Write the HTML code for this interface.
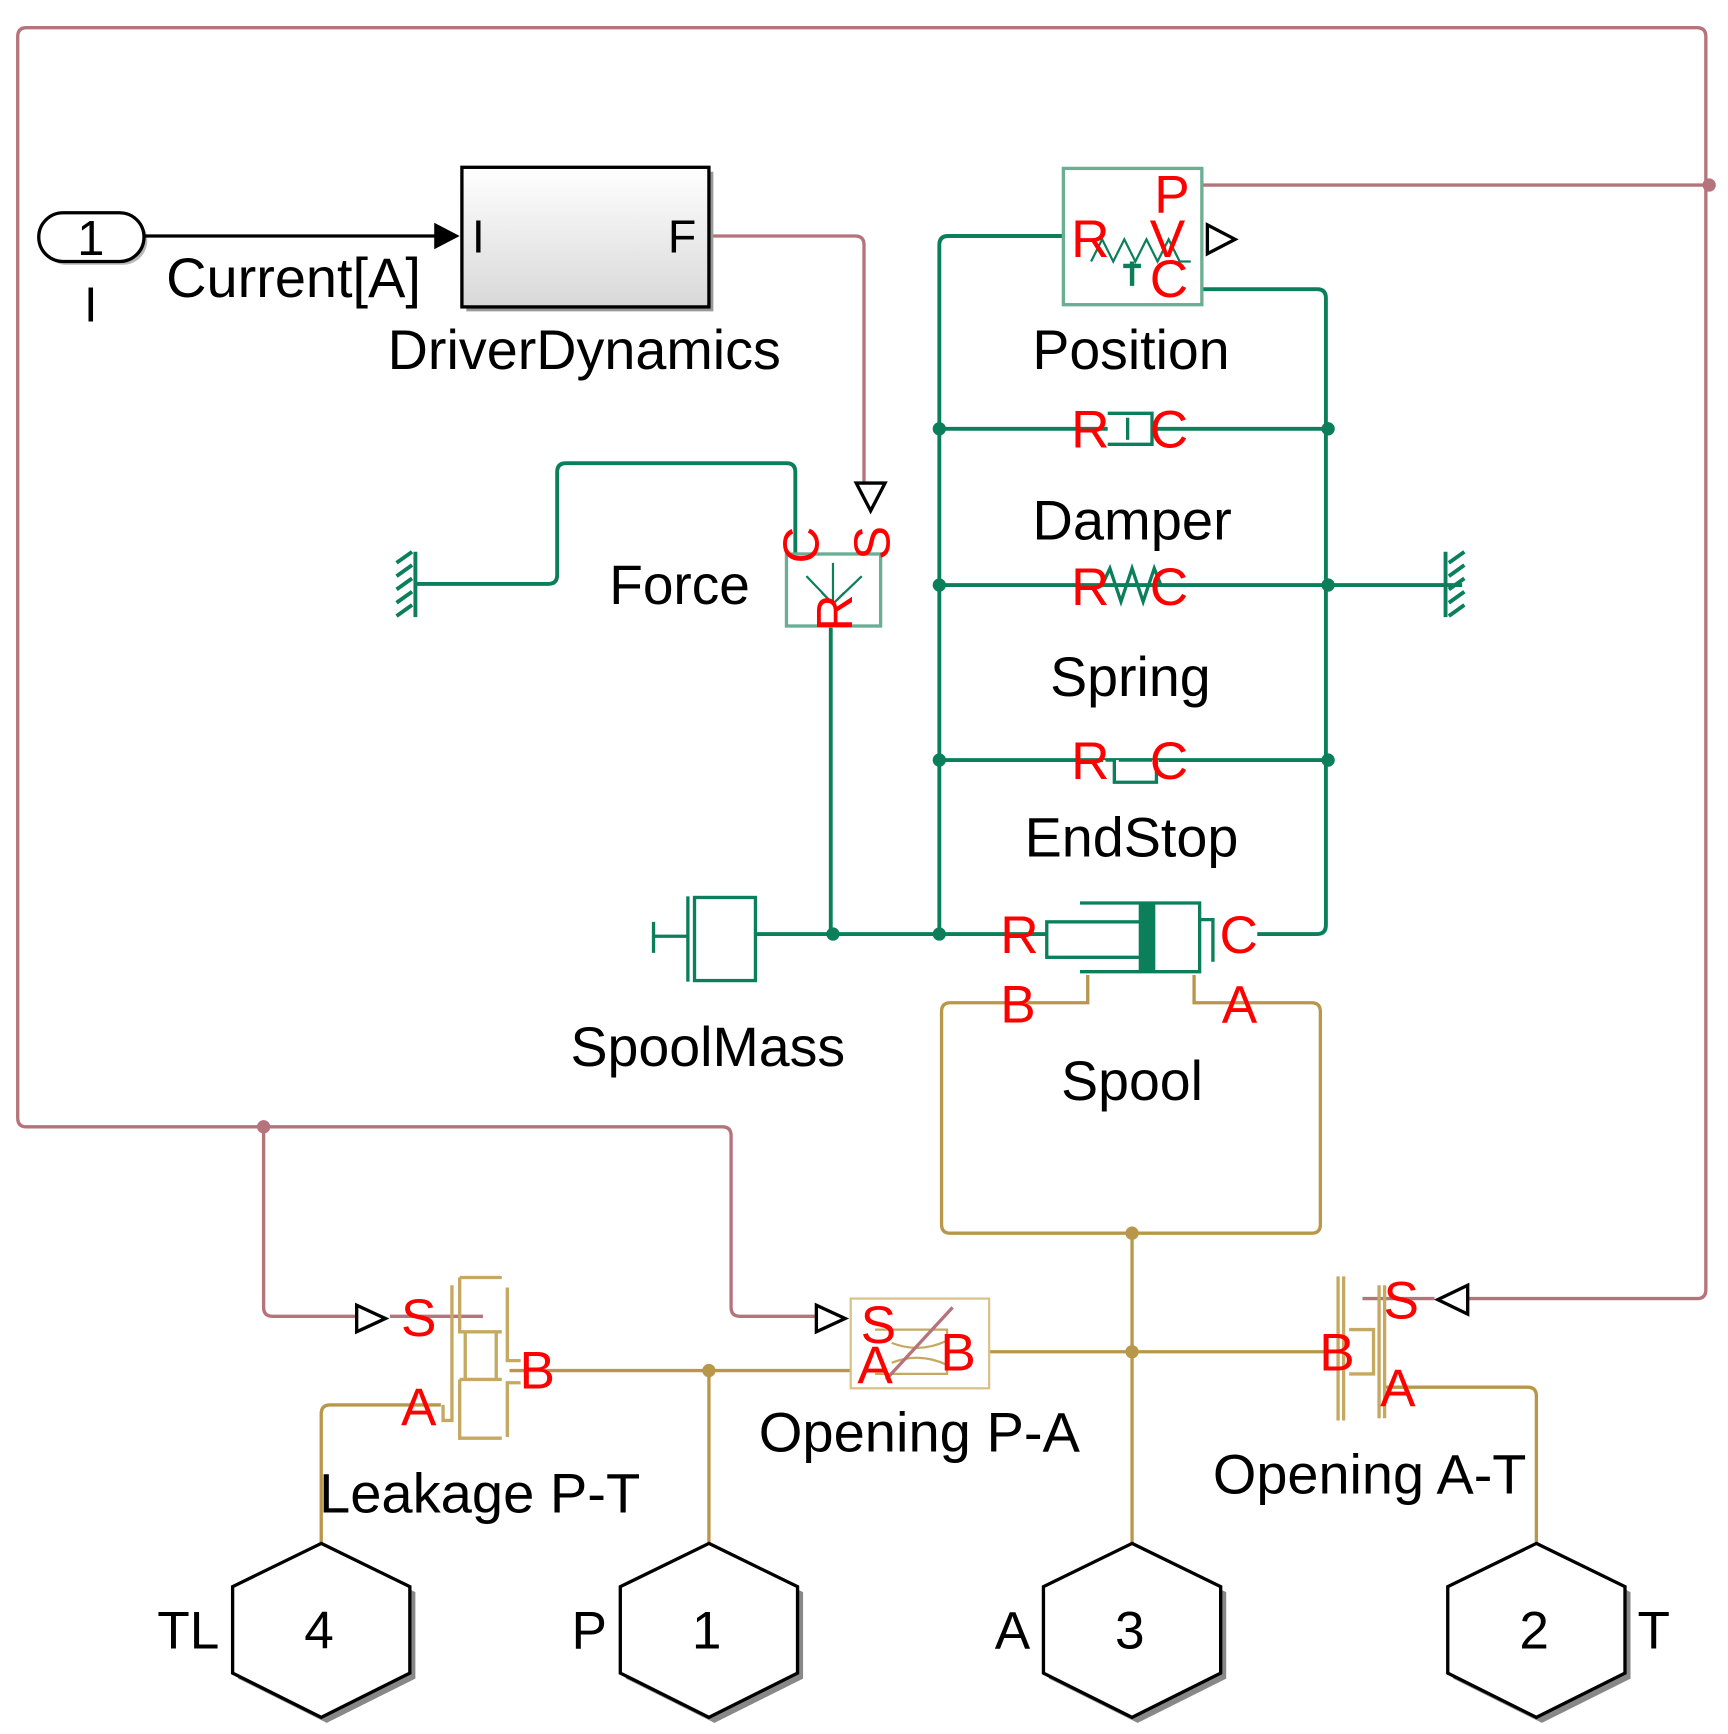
<!DOCTYPE html>
<html><head><meta charset="utf-8"><style>
html,body{margin:0;padding:0;background:#fff;}
svg{display:block;}
text{font-family:"Liberation Sans",sans-serif;}
</style></head><body>
<svg width="1728" height="1734" viewBox="0 0 1560 1565" preserveAspectRatio="none" xmlns="http://www.w3.org/2000/svg">
<defs>
<linearGradient id="g" x1="0" y1="0" x2="0" y2="1"><stop offset="0" stop-color="#ffffff"/><stop offset="1" stop-color="#d8d8d8"/></linearGradient>
</defs>
<rect width="1560" height="1565" fill="#fff"/>
<g fill="none" stroke="#b5737b" stroke-width="3">
<path d="M238,1017 L24,1017 Q16,1017 16,1009 L16,33 Q16,25 24,25 L1532,25 Q1540,25 1540,33 L1540,1164 Q1540,1172 1532,1172 L1325,1172"/>
<path d="M1085,167 L1543,167"/>
<path d="M238,1017 L652,1017 Q660,1017 660,1025 L660,1180 Q660,1188 668,1188 L737,1188"/>
<path d="M238,1017 L238,1180 Q238,1188 246,1188 L322,1188"/>
<path d="M640,213 L772,213 Q780,213 780,221 L780,436"/>
<path d="M352,1188 L436,1188"/>
<path d="M1230,1172 L1295,1172"/>
</g>
<circle cx="238" cy="1017" r="6" fill="#b5737b"/>
<circle cx="1543" cy="167" r="6" fill="#b5737b"/>
<g fill="#fff" stroke="#000" stroke-width="3">
<path d="M773,436 L799,436 L786,461 Z"/>
<path d="M322,1178 L322,1202 L348,1190 Z"/>
<path d="M737,1178 L737,1202 L763,1190 Z"/>
<path d="M1325,1160 L1325,1186 L1298,1173 Z"/>
<path d="M1090,203 L1090,229 L1115,216 Z"/>
</g>
<g fill="none" stroke="#0a7f5a" stroke-width="3.5">
<path d="M960,213 L856,213 Q848,213 848,221 L848,843"/>
<path d="M1085,261 L1189,261 Q1197,261 1197,269 L1197,835 Q1197,843 1189,843 L1135,843"/>
<path d="M848,387 L1199,387 M848,528 L1320,528 M848,686 L1199,686"/>
<path d="M683,843 L945,843"/>
<path d="M750,565 L750,843"/>
<path d="M718,500 L718,426 Q718,418 710,418 L511,418 Q503,418 503,426 L503,519 Q503,527 495,527 L375,527"/>
</g>
<g fill="#0a7f5a">
<circle cx="752" cy="843" r="6"/><circle cx="848" cy="843" r="6"/>
<circle cx="848" cy="387" r="6"/><circle cx="848" cy="528" r="6"/><circle cx="848" cy="686" r="6"/>
<circle cx="1199" cy="387" r="6"/><circle cx="1199" cy="528" r="6"/><circle cx="1199" cy="686" r="6"/>
</g>
<g stroke="#0a7f5a" stroke-width="3.5" fill="none">
<path d="M375,498 L375,557"/>
<path d="M358,508 L372,498 M358,520 L372,510 M358,532 L372,522 M358,544 L372,534 M358,556 L372,546"/>
<path d="M1305,498 L1305,557"/>
<path d="M1308,508 L1322,498 M1308,520 L1322,510 M1308,532 L1322,522 M1308,544 L1322,534 M1308,556 L1322,546"/>
</g>
<g fill="none" stroke="#b8974a" stroke-width="3">
<path d="M982,880 L982,905 L858,905 Q850,905 850,913 L850,1105 Q850,1113 858,1113 L1184,1113 Q1192,1113 1192,1105 L1192,913 Q1192,905 1184,905 L1078,905 L1078,880"/>
<path d="M1022,1113 L1022,1395"/>
<path d="M893,1220 L1205,1220"/>
<path d="M460,1237 L768,1237"/>
<path d="M640,1237 L640,1395"/>
<path d="M398,1268 L298,1268 Q290,1268 290,1276 L290,1395"/>
<path d="M1250,1252 L1379,1252 Q1387,1252 1387,1260 L1387,1395"/>
</g>
<g fill="#b8974a"><circle cx="1022" cy="1113" r="6"/><circle cx="1022" cy="1220" r="6"/><circle cx="640" cy="1237" r="6"/></g>
<rect x="38" y="195" width="95" height="44" rx="22" fill="#888" opacity="0.6"/>
<rect x="35" y="192" width="95" height="44" rx="22" fill="#fff" stroke="#000" stroke-width="3"/>
<text x="82" y="230" font-size="44" text-anchor="middle">1</text>
<text x="82" y="290" font-size="44" text-anchor="middle">I</text>
<path d="M130,213 L395,213" stroke="#000" stroke-width="3"/>
<path d="M392,201 L415,213 L392,225 Z" fill="#000"/>
<text x="150" y="268" font-size="50" textLength="230" lengthAdjust="spacingAndGlyphs">Current[A]</text>
<rect x="421" y="155" width="223" height="126" fill="#999"/>
<rect x="417" y="151" width="223" height="126" fill="url(#g)" stroke="#000" stroke-width="3"/>
<text x="426" y="228" font-size="42">I</text>
<text x="603" y="228" font-size="42">F</text>
<g font-size="50" lengthAdjust="spacingAndGlyphs">
<text x="350" y="333" textLength="355" lengthAdjust="spacingAndGlyphs">DriverDynamics</text>
<text x="550" y="545" textLength="127" lengthAdjust="spacingAndGlyphs">Force</text>
<text x="515" y="962" textLength="248" lengthAdjust="spacingAndGlyphs">SpoolMass</text>
<text x="932" y="333" textLength="178" lengthAdjust="spacingAndGlyphs">Position</text>
<text x="932" y="487" textLength="180" lengthAdjust="spacingAndGlyphs">Damper</text>
<text x="948" y="628" textLength="145" lengthAdjust="spacingAndGlyphs">Spring</text>
<text x="925" y="773" textLength="193" lengthAdjust="spacingAndGlyphs">EndStop</text>
<text x="958" y="993" textLength="128" lengthAdjust="spacingAndGlyphs">Spool</text>
<text x="685" y="1310" textLength="290" lengthAdjust="spacingAndGlyphs">Opening P-A</text>
<text x="288" y="1365" textLength="290" lengthAdjust="spacingAndGlyphs">Leakage P-T</text>
<text x="1095" y="1348" textLength="283" lengthAdjust="spacingAndGlyphs">Opening A-T</text>
</g>
<rect x="710" y="500" width="85" height="65" fill="#fff" stroke="#6aae93" stroke-width="3"/>
<path d="M752,508 L752,545 M742,535 L752,545 L762,535 M728,520 L752,545 L778,520" stroke="#0a7f5a" stroke-width="2" fill="none"/>
<g fill="#f00" font-size="46">
<text transform="translate(739,492) rotate(-90)" text-anchor="middle">C</text>
<text transform="translate(803,490) rotate(-90)" text-anchor="middle">S</text>
<text transform="translate(769,553) rotate(-90)" text-anchor="middle">R</text>
</g>
<path d="M590,832 L590,860 M590,845 L620,845" stroke="#0a7f5a" stroke-width="3"/>
<path d="M621,809 L621,886" stroke="#0a7f5a" stroke-width="3"/>
<rect x="627" y="810" width="55" height="75" fill="#fff" stroke="#0a7f5a" stroke-width="3"/>
<rect x="960" y="152" width="125" height="123" fill="#fff" stroke="#6aae93" stroke-width="3"/>
<path d="M985,236 L995,216 L1005,236 L1015,216 L1025,236 L1035,216 L1045,236 L1055,216 L1065,236 L1075,236" stroke="#0a7f5a" stroke-width="2" fill="none"/>
<path d="M1022,236 L1022,258 M1014,240 L1030,240" stroke="#0a7f5a" stroke-width="4"/>
<g fill="#f00" font-size="48">
<text x="967" y="232">R</text><text x="1042" y="192">P</text><text x="1038" y="232">V</text><text x="1038" y="268">C</text>
</g>
<path d="M1000,373 L1040,373 L1040,401 L1000,401" stroke="#0a7f5a" stroke-width="3" fill="#fff"/>
<path d="M1018,377 L1018,397" stroke="#0a7f5a" stroke-width="3"/>
<g fill="#f00" font-size="48"><text x="967" y="404">R</text><text x="1038" y="404">C</text></g>
<path d="M995,528 L1002,513 L1012,543 L1022,513 L1032,543 L1042,513 L1048,528" stroke="#0a7f5a" stroke-width="3" fill="none"/>
<g fill="#f00" font-size="48"><text x="967" y="546">R</text><text x="1038" y="546">C</text></g>
<rect x="996" y="686" width="50" height="20" fill="#fff"/>
<path d="M998,686 L1006,686 L1006,706 L1044,706 L1044,686" stroke="#0a7f5a" stroke-width="3" fill="none"/>
<path d="M1010,686 L1040,686" stroke="#0a7f5a" stroke-width="3"/>
<g fill="#f00" font-size="48"><text x="967" y="703">R</text><text x="1038" y="703">C</text></g>
<g stroke="#0a7f5a" stroke-width="3" fill="#fff">
<path d="M975,815 L1083,815 L1083,877 L975,877"/>
<rect x="945" y="832" width="85" height="32"/>
<path d="M1083,830 L1095,830 L1095,868" fill="none"/>
</g>
<rect x="1028" y="815" width="15" height="62" fill="#0a7f5a"/>
<g fill="#f00" font-size="48">
<text x="903" y="860">R</text><text x="1101" y="860">C</text>
<text x="903" y="923">B</text><text x="1103" y="923">A</text>
</g>
<g stroke="#c5a862" stroke-width="3" fill="none">
<path d="M408,1160 L408,1282 L400,1282 L400,1268"/>
<path d="M415,1153 L453,1153 M415,1153 L415,1202 L453,1202 M415,1245 L453,1245 M415,1245 L415,1298 L453,1298"/>
<path d="M420,1202 L420,1245 M448,1202 L448,1245"/>
<path d="M458,1162 L458,1228 L470,1228 M458,1248 L470,1248 L458,1248 L458,1297"/>
</g>
<g fill="#f00" font-size="48"><text x="362" y="1206">S</text><text x="362" y="1286">A</text><text x="469" y="1253">B</text></g>
<rect x="768" y="1172" width="125" height="81" fill="#fff" stroke="#d8c089" stroke-width="2"/>
<path d="M790,1200 L855,1200 L855,1240 L790,1240 M805,1212 Q830,1222 855,1210 M805,1230 Q830,1220 855,1232" stroke="#c5a862" stroke-width="2" fill="none"/>
<path d="M800,1245 L860,1180" stroke="#b5737b" stroke-width="3"/>
<g fill="#f00" font-size="48"><text x="777" y="1212">S</text><text x="774" y="1248">A</text><text x="849" y="1237">B</text></g>
<g stroke="#c5a862" stroke-width="3" fill="none">
<path d="M1208,1152 L1208,1282 M1213,1152 L1213,1282"/>
<path d="M1250,1160 L1250,1280 M1245,1160 L1245,1280"/>
<path d="M1218,1200 L1240,1200 L1240,1240 L1218,1240"/>
</g>
<g fill="#f00" font-size="48"><text x="1249" y="1190">S</text><text x="1191" y="1237">B</text><text x="1246" y="1269">A</text></g>
<g>
<path d="M295,1398 L375,1437 L375,1515 L295,1555 L215,1515 L215,1437 Z" fill="#888"/>
<path d="M290,1393 L370,1432 L370,1510 L290,1550 L210,1510 L210,1432 Z" fill="#fff" stroke="#000" stroke-width="3"/>
<path d="M645,1398 L725,1437 L725,1515 L645,1555 L565,1515 L565,1437 Z" fill="#888"/>
<path d="M640,1393 L720,1432 L720,1510 L640,1550 L560,1510 L560,1432 Z" fill="#fff" stroke="#000" stroke-width="3"/>
<path d="M1027,1398 L1107,1437 L1107,1515 L1027,1555 L947,1515 L947,1437 Z" fill="#888"/>
<path d="M1022,1393 L1102,1432 L1102,1510 L1022,1550 L942,1510 L942,1432 Z" fill="#fff" stroke="#000" stroke-width="3"/>
<path d="M1392,1398 L1472,1437 L1472,1515 L1392,1555 L1312,1515 L1312,1437 Z" fill="#888"/>
<path d="M1387,1393 L1467,1432 L1467,1510 L1387,1550 L1307,1510 L1307,1432 Z" fill="#fff" stroke="#000" stroke-width="3"/>
</g>
<g font-size="48" text-anchor="middle">
<text x="288" y="1488">4</text><text x="638" y="1488">1</text><text x="1020" y="1488">3</text><text x="1385" y="1488">2</text>
<text x="170" y="1488">TL</text><text x="532" y="1488">P</text><text x="914" y="1488">A</text><text x="1493" y="1488">T</text>
</g>
</svg>
</body></html>
